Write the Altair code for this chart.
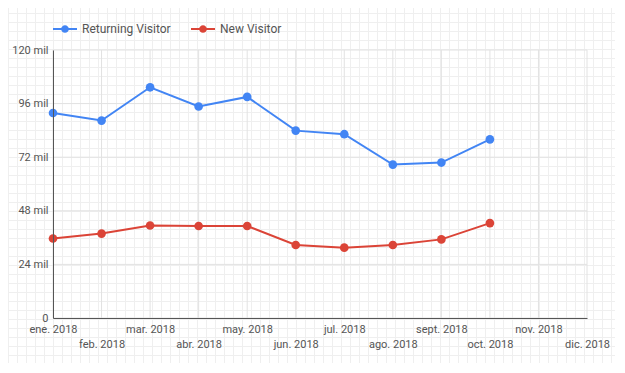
import altair as alt
import pandas as pd

months = ["ene. 2018", "feb. 2018", "mar. 2018", "abr. 2018", "may. 2018", "jun. 2018",
          "jul. 2018", "ago. 2018", "sept. 2018", "oct. 2018", "nov. 2018", "dic. 2018"]
series_names = ["Returning Visitor", "New Visitor"]
returning = [91.8, 88.4, 103.3, 94.7, 99.0, 83.9, 82.3, 68.7, 69.6, 80.0]
new_visitor = [35.6, 37.8, 41.4, 41.2, 41.2, 32.7, 31.5, 32.7, 35.2, 42.5]
y_ticks = [0, 24, 48, 72, 96, 120]
colors = ["#4285F4", "#DB4437"]

rows = []
for m, v in zip(months, returning):
    rows.append({"month": m, "series": series_names[0], "value": v})
for m, v in zip(months, new_visitor):
    rows.append({"month": m, "series": series_names[1], "value": v})
df = pd.DataFrame(rows)

W, H = 534, 268
PL, PT, PR, PB = 45, 42, 28, 45

# decorative background grid of the page (9px pattern)
vx = [9 * k - 45 + 0.5 for k in range(0, 69)]
hy = [9 * k - 46 + 0.5 for k in range(0, 41)]
bg_v = pd.DataFrame({"px": vx})
bg_h = pd.DataFrame({"py": hy})
bg_color = "#efefef"
grid_color = "#e2e2e2"

grid_v = alt.Chart(bg_v).mark_rule(color=bg_color, strokeWidth=1).encode(
    x=alt.X("px:Q", scale=None, axis=None),
    y=alt.value(-PT),
    y2=alt.value(H + PB),
)
grid_h = alt.Chart(bg_h).mark_rule(color=bg_color, strokeWidth=1).encode(
    y=alt.Y("py:Q", scale=None, axis=None),
    x=alt.value(-PL),
    x2=alt.value(W + PR),
)

x_scale = alt.Scale(type="point", domain=months, padding=0)
y_scale = alt.Scale(domain=[0, 120], nice=False)

x_enc = alt.X(
    "month:O",
    sort=months,
    scale=x_scale,
    axis=alt.Axis(
        title=None, labelAngle=0, ticks=False, grid=False, zindex=1,
        domainColor="#555555", labelOverlap=False, labelBound=False, labelFlush=False,
        labelFont="Roboto", labelFontSize=11, labelColor="#555555",
        labelPadding={"condition": {"test": "round(datum.index * 11) % 2 == 1", "value": 20}, "value": 5},
    ),
)
y_enc = alt.Y(
    "value:Q",
    scale=y_scale,
    axis=alt.Axis(
        title=None, values=y_ticks, ticks=False, grid=False, zindex=1,
        domainColor="#555555", labelFont="Roboto", labelFontSize=11, labelColor="#555555",
        labelPadding=5,
        labelExpr="datum.value == 0 ? '0' : datum.value + ' mil'",
    ),
)

# chart gridlines
month_grid = alt.Chart(pd.DataFrame({"month": months})).mark_rule(color=grid_color, strokeWidth=1).encode(
    x=x_enc,
    y=alt.value(0),
    y2=alt.value(H),
)
value_grid = alt.Chart(pd.DataFrame({"value": y_ticks})).mark_rule(color=grid_color, strokeWidth=1).encode(
    y=y_enc,
    x=alt.value(0),
    x2=alt.value(W),
)

sym = "M-1,-0.085H1V0.085H-1Z M-0.32,0 A0.32,0.32 0 1,1 0.32,0 A0.32,0.32 0 1,1 -0.32,0 Z"

lines = alt.Chart(df).mark_line(strokeWidth=2).encode(
    x=x_enc, y=y_enc,
    stroke=alt.Stroke("series:N", scale=alt.Scale(domain=series_names, range=colors), legend=None),
    detail="series:N",
)
points = alt.Chart(df).mark_circle(size=75, opacity=1).encode(
    x=x_enc, y=y_enc,
    color=alt.Color(
        "series:N",
        scale=alt.Scale(domain=series_names, range=colors),
        legend=alt.Legend(
            title=None, orient="none", legendX=0, legendY=-33, direction="horizontal",
            symbolType=sym, symbolSize=576, symbolStrokeWidth=0, symbolOpacity=1,
            labelFont="Roboto", labelFontSize=12, labelColor="#555555", labelOffset=5,
            columnPadding=20, padding=0,
        ),
    ),
)

chart = alt.layer(grid_v, grid_h, month_grid, value_grid, lines, points).resolve_scale(
    stroke="independent"
).properties(
    width=W, height=H,
    autosize=alt.AutoSizeParams(type="none"),
    padding={"left": PL, "top": PT, "right": PR, "bottom": PB},
).configure_view(stroke=None)

chart.save("out.html", embed_options={"renderer": "svg", "actions": False})
